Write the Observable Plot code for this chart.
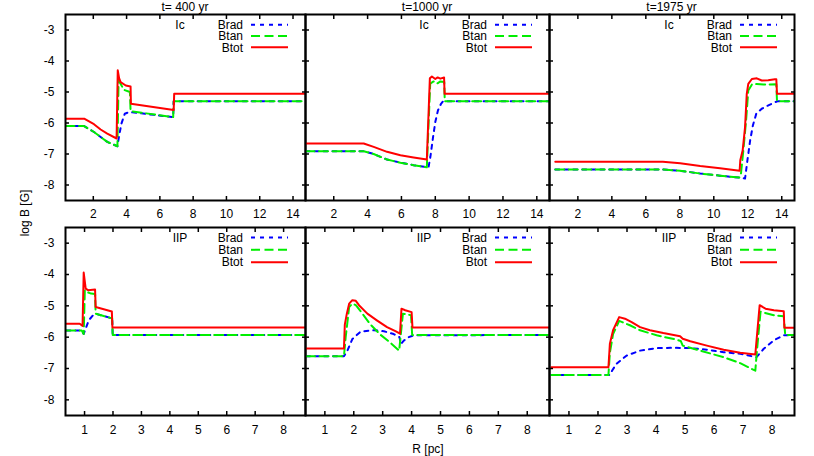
<!DOCTYPE html>
<html><head><meta charset="utf-8">
<script src="https://cdn.jsdelivr.net/npm/d3@7"></script>
<script src="https://cdn.jsdelivr.net/npm/@observablehq/plot@0.6"></script>
<style>
body{margin:0;background:#fff;}
#wrap{position:relative;width:814px;height:456px;background:#fff;font-family:"Liberation Sans",Arial,sans-serif;font-size:12px;color:#000;overflow:hidden;}
.lbl{position:absolute;white-space:nowrap;line-height:14px;}
</style></head><body><div id="wrap"></div>
<script>
// ---- tick labels / categories ----
const ticksTopRow = [2, 4, 6, 8, 10, 12, 14];
const ticksBottomRow = [1, 2, 3, 4, 5, 6, 7, 8];
const yTicks = [-3, -4, -5, -6, -7, -8];
const titles = ["t= 400 yr", "t=1000 yr", "t=1975 yr"];
const rowTags = ["Ic", "IIP"];
const seriesNames = ["Brad", "Btan", "Btot"];
const seriesColors = ["#0000ff", "#00ee00", "#ff0000"];
const seriesDash = ["4,5", "9,4.5", null];

// ---- Ic, t=400 yr : [R (pc), log B] ----
const ic400Brad = [[0.33,-6.1],[1.45,-6.1],[2.04,-6.29],[2.44,-6.45],[2.84,-6.61],[3.45,-6.75],[3.54,-6.45],[3.69,-6.02],[3.89,-5.7],[4.2,-5.64],[4.25,-5.65],[6.8,-5.81],[6.83,-5.3],[14.75,-5.3]];
const ic400Btan = [[0.33,-6.1],[1.45,-6.1],[2.04,-6.29],[2.44,-6.45],[2.84,-6.61],[3.45,-6.75],[3.52,-4.63],[3.6,-4.7],[3.84,-4.93],[4.2,-5.0],[4.24,-5.62],[6.8,-5.81],[6.83,-5.3],[14.75,-5.3]];
const ic400Btot = [[0.33,-5.86],[1.45,-5.86],[2.04,-6.04],[2.44,-6.21],[2.84,-6.34],[3.4,-6.5],[3.47,-4.3],[3.55,-4.55],[3.64,-4.68],[3.95,-4.79],[4.24,-4.82],[4.26,-5.38],[6.83,-5.58],[6.86,-5.06],[14.75,-5.06]];
// ---- Ic, t=1000 yr ----
const ic1000Brad = [[0.33,-6.91],[3.77,-6.91],[4.36,-7.0],[5.15,-7.18],[5.94,-7.28],[6.72,-7.36],[7.6,-7.43],[7.71,-7.09],[7.87,-6.45],[8.0,-5.97],[8.16,-5.59],[8.34,-5.38],[8.46,-5.3],[14.75,-5.3]];
const ic1000Btan = [[0.33,-6.91],[3.77,-6.91],[4.36,-7.0],[5.15,-7.18],[5.94,-7.28],[6.72,-7.36],[7.5,-7.43],[7.7,-4.73],[7.9,-4.66],[8.1,-4.73],[8.3,-4.66],[8.53,-4.68],[8.56,-5.3],[14.75,-5.3]];
const ic1000Btot = [[0.33,-6.66],[3.77,-6.66],[4.36,-6.77],[5.15,-6.93],[5.94,-7.04],[6.72,-7.11],[7.5,-7.18],[7.68,-4.56],[7.8,-4.5],[8.0,-4.58],[8.14,-4.53],[8.3,-4.57],[8.52,-4.53],[8.55,-5.06],[14.75,-5.06]];
// ---- Ic, t=1975 yr ----
const ic1975Brad = [[0.67,-7.5],[7.0,-7.5],[8.02,-7.54],[9.2,-7.63],[10.37,-7.7],[11.5,-7.76],[11.84,-7.79],[11.98,-7.2],[12.14,-6.56],[12.3,-6.08],[12.5,-5.7],[12.82,-5.54],[13.21,-5.43],[13.6,-5.33],[13.75,-5.3],[14.75,-5.3]];
const ic1975Btan = [[0.67,-7.5],[7.0,-7.5],[8.02,-7.54],[9.2,-7.63],[10.37,-7.7],[11.5,-7.76],[11.6,-7.63],[11.74,-6.88],[11.9,-5.92],[12.03,-4.95],[12.24,-4.76],[12.53,-4.74],[12.92,-4.76],[13.68,-4.75],[13.72,-5.3],[14.75,-5.3]];
const ic1975Btot = [[0.67,-7.25],[7.0,-7.25],[8.02,-7.3],[9.2,-7.39],[10.37,-7.46],[11.52,-7.54],[11.56,-7.2],[11.7,-6.88],[11.84,-6.13],[11.94,-5.06],[12.03,-4.74],[12.24,-4.58],[12.53,-4.56],[12.82,-4.63],[13.2,-4.62],[13.6,-4.59],[13.68,-4.59],[13.72,-5.06],[14.75,-5.06]];
// ---- IIP, t=400 yr ----
const iip400Brad = [[0.36,-5.79],[0.9,-5.79],[0.97,-5.9],[1.05,-5.7],[1.15,-5.46],[1.3,-5.3],[1.38,-5.25],[1.97,-5.4],[1.99,-5.93],[8.77,-5.93]];
const iip400Btan = [[0.36,-5.79],[0.9,-5.79],[0.97,-5.9],[1.01,-4.5],[1.06,-4.55],[1.23,-4.61],[1.37,-4.62],[1.39,-5.25],[1.97,-5.4],[1.99,-5.93],[8.77,-5.93]];
const iip400Btot = [[0.36,-5.57],[0.83,-5.57],[0.93,-5.64],[0.97,-3.94],[1.04,-4.45],[1.12,-4.5],[1.37,-4.48],[1.39,-5.04],[1.96,-5.18],[1.98,-5.69],[8.77,-5.69]];
// ---- IIP, t=1000 yr ----
const iip1000Brad = [[0.35,-6.61],[1.66,-6.61],[1.78,-6.43],[1.95,-6.06],[2.24,-5.82],[2.69,-5.78],[3.04,-5.81],[3.38,-5.9],[3.58,-6.0],[3.63,-6.22],[3.73,-6.11],[3.9,-6.0],[4.07,-5.94],[8.77,-5.93]];
const iip1000Btan = [[0.35,-6.61],[1.66,-6.61],[1.72,-6.0],[1.84,-5.04],[1.95,-4.93],[2.07,-4.98],[2.3,-5.25],[2.58,-5.6],[2.92,-5.92],[3.27,-6.18],[3.57,-6.43],[3.7,-5.25],[3.98,-5.3],[4.02,-5.93],[8.77,-5.93]];
const iip1000Btot = [[0.35,-6.36],[1.66,-6.36],[1.69,-5.6],[1.76,-5.25],[1.84,-4.93],[1.95,-4.82],[2.07,-4.84],[2.18,-4.98],[2.47,-5.25],[2.81,-5.47],[3.15,-5.68],[3.44,-5.81],[3.6,-5.89],[3.65,-5.09],[3.78,-5.14],[4.0,-5.2],[4.03,-5.69],[8.77,-5.69]];
// ---- IIP, t=1975 yr ----
const iip1975Brad = [[0.39,-7.21],[2.4,-7.21],[2.5,-7.05],[2.64,-6.85],[2.98,-6.59],[3.45,-6.43],[4.02,-6.35],[4.6,-6.34],[5.18,-6.35],[5.75,-6.4],[6.33,-6.48],[6.9,-6.53],[7.46,-6.64],[7.71,-6.37],[8.06,-6.1],[8.4,-5.94],[8.77,-5.93]];
const iip1975Btan = [[0.39,-7.21],[2.36,-7.21],[2.41,-6.5],[2.52,-5.9],[2.73,-5.48],[3.1,-5.62],[3.45,-5.78],[4.02,-5.94],[4.71,-6.08],[4.85,-6.12],[4.92,-6.27],[5.52,-6.43],[6.33,-6.64],[6.9,-6.83],[7.42,-7.07],[7.47,-6.5],[7.6,-5.19],[8.06,-5.3],[8.4,-5.33],[8.45,-5.93],[8.77,-5.93]];
const iip1975Btot = [[0.39,-6.96],[2.36,-6.96],[2.41,-6.21],[2.52,-5.78],[2.73,-5.36],[2.93,-5.41],[3.16,-5.52],[3.45,-5.68],[3.79,-5.78],[4.25,-5.87],[4.83,-5.97],[4.92,-6.05],[5.18,-6.13],[5.75,-6.27],[6.33,-6.4],[6.9,-6.5],[7.42,-6.55],[7.57,-4.98],[7.77,-5.09],[8.06,-5.14],[8.4,-5.17],[8.42,-5.7],[8.77,-5.7]];

const panelData = [
  [[ic400Brad, ic400Btan, ic400Btot], [ic1000Brad, ic1000Btan, ic1000Btot], [ic1975Brad, ic1975Btan, ic1975Btot]],
  [[iip400Brad, iip400Btan, iip400Btot], [iip1000Brad, iip1000Btan, iip1000Btot], [iip1975Brad, iip1975Btan, iip1975Btot]]
];

// ---- layout ----
const cols = [{left: 65, width: 240}, {left: 305, width: 244}, {left: 549, width: 245}];
const rows = [
  {top: 14, height: 186, xDomain: [0.33, 14.75], ticks: ticksTopRow, pad: 13},
  {top: 227, height: 188, xDomain: [0.33, 8.77], ticks: ticksBottomRow, pad: 14}
];
const FONT = '"Liberation Sans", Arial, sans-serif';
const wrap = document.getElementById("wrap");
const mL = 45, mR = 15, mT = 10, mB = 30;

function makePanel(r, c) {
  const row = rows[r], col = cols[c];
  const series = panelData[r][c];
  const marks = series.map((pts, i) => {
    const o = {x: d => d[0], y: d => d[1], stroke: seriesColors[i], strokeWidth: 2, clip: true};
    if (seriesDash[i]) o.strokeDasharray = seriesDash[i];
    return Plot.line(pts, o);
  });
  const blank = () => "";
  marks.push(
    Plot.axisX(row.ticks, {anchor: "bottom", tickSize: -4, strokeWidth: 1.5, tickPadding: row.pad, tickFormat: d => String(d), label: null}),
    Plot.axisX(row.ticks, {anchor: "top", tickSize: -4, strokeWidth: 1.5, tickFormat: blank, label: null}),
    Plot.axisY(yTicks, {anchor: "left", tickSize: -4, strokeWidth: 1.5, tickPadding: 15, tickFormat: c === 0 ? (d => String(d)) : blank, label: null}),
    Plot.axisY(yTicks, {anchor: "right", tickSize: -4, strokeWidth: 1.5, tickFormat: blank, label: null}),
    Plot.frame({stroke: "black", strokeWidth: 2})
  );
  const svg = Plot.plot({
    width: mL + col.width + mR,
    height: mT + row.height + mB,
    marginLeft: mL, marginRight: mR, marginTop: mT, marginBottom: mB,
    x: {domain: row.xDomain},
    y: {domain: [-8.5, -2.5]},
    style: {background: "transparent", overflow: "visible", fontSize: "12px", fontFamily: FONT, color: "black"},
    marks
  });
  svg.style.position = "absolute";
  svg.style.left = (col.left - mL) + "px";
  svg.style.top = (row.top - mT) + "px";
  svg.style.maxWidth = "none";

  // legend (inside panel, top right)
  const right = mL + col.width;
  const g = d3.select(svg).append("g").attr("font-family", FONT).attr("font-size", 12);
  const rowsY = r === 0 ? [10.7, 22, 33.3] : [10.5, 22.8, 35.2];
  g.append("text").attr("x", right - 125).attr("y", mT + rowsY[0]).attr("dy", "0.35em")
    .attr("text-anchor", "middle").text(rowTags[r]);
  seriesNames.forEach((name, i) => {
    const y = mT + rowsY[i];
    g.append("text").attr("x", right - 62).attr("y", y).attr("dy", "0.35em")
      .attr("text-anchor", "end").text(name);
    const ln = g.append("line").attr("x1", right - 54).attr("x2", right - 17)
      .attr("y1", y).attr("y2", y).attr("stroke", seriesColors[i]).attr("stroke-width", 2);
    if (seriesDash[i]) ln.attr("stroke-dasharray", seriesDash[i]);
  });
  wrap.appendChild(svg);
}

for (let r = 0; r < 2; r++) for (let c = 0; c < 3; c++) makePanel(r, c);

function label(text, x, y, rotate) {
  const d = document.createElement("div");
  d.className = "lbl";
  d.textContent = text;
  d.style.left = x + "px";
  d.style.top = y + "px";
  d.style.transform = "translate(-50%,-50%)" + (rotate ? " rotate(-90deg)" : "");
  wrap.appendChild(d);
}
titles.forEach((t, c) => label(t, cols[c].left + cols[c].width / 2, 7, false));
label("R [pc]", 428, 449, false);
label("log B [G]", 25, 213, true);
</script></body></html>
